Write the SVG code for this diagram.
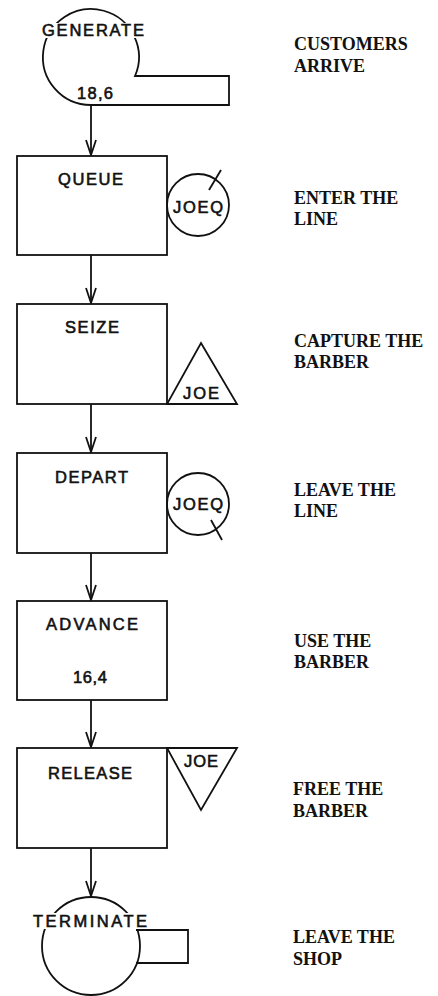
<svg xmlns="http://www.w3.org/2000/svg" width="438" height="996" viewBox="0 0 438 996">
<defs>
<style>
.s{fill:none;stroke:#111;stroke-width:1.8;stroke-linejoin:miter}
.t{font-family:"Liberation Sans",Arial,sans-serif;font-size:16.5px;fill:#111;stroke:#111;stroke-width:0.6}
.n{font-family:"Liberation Serif","Times New Roman",serif;font-size:18px;font-weight:bold;fill:#111}
.c{stroke:#111;stroke-width:1.8;fill:none}
</style>
<marker id="ar" viewBox="-16 -6 17 12" refX="0" refY="0" markerWidth="17" markerHeight="12" markerUnits="userSpaceOnUse" orient="auto">
<path d="M-15,-5 L0,0 L-15,5" fill="none" stroke="#111" stroke-width="1.8"/>
</marker>
</defs>
<rect width="438" height="996" fill="#fff"/>
<g id="connectors">
<line class="c" x1="91" y1="105" x2="91" y2="155" marker-end="url(#ar)"/>
<line class="c" x1="91" y1="255" x2="91" y2="303" marker-end="url(#ar)"/>
<line class="c" x1="91" y1="404" x2="91" y2="452" marker-end="url(#ar)"/>
<line class="c" x1="91" y1="553" x2="91" y2="600" marker-end="url(#ar)"/>
<line class="c" x1="91" y1="700" x2="91" y2="747" marker-end="url(#ar)"/>
<line class="c" x1="91" y1="848" x2="91" y2="896" marker-end="url(#ar)"/>
</g>
<g id="generate">
<path class="s" d="M135,76 A48,48 0 1 0 91,105 L229,105 L229,76 Z"/>
<rect x="40" y="23" width="106" height="15" fill="#fff"/>
<text class="t" x="42" y="36" textLength="102" lengthAdjust="spacing">GENERATE</text>
<text class="t" x="77" y="99" textLength="36" lengthAdjust="spacing">18,6</text>
</g>
<g id="queue">
<rect class="s" x="17" y="156" width="150" height="99"/>
<text class="t" x="58" y="185" textLength="65" lengthAdjust="spacing">QUEUE</text>
<circle class="s" cx="198" cy="205" r="31"/>
<text class="t" x="173" y="213" textLength="50" lengthAdjust="spacing">JOEQ</text>
<line class="c" x1="209" y1="190" x2="221" y2="170"/>
</g>
<g id="seize">
<rect class="s" x="17" y="304" width="150" height="100"/>
<text class="t" x="65" y="333" textLength="54" lengthAdjust="spacing">SEIZE</text>
<path class="s" d="M201,343 L237,404 L167,404 Z"/>
<text class="t" x="183" y="399" textLength="36" lengthAdjust="spacing">JOE</text>
</g>
<g id="depart">
<rect class="s" x="17" y="453" width="150" height="100"/>
<text class="t" x="55" y="483" textLength="73" lengthAdjust="spacing">DEPART</text>
<circle class="s" cx="198" cy="504" r="31"/>
<text class="t" x="173" y="510" textLength="50" lengthAdjust="spacing">JOEQ</text>
<line class="c" x1="211" y1="520" x2="222" y2="540"/>
</g>
<g id="advance">
<rect class="s" x="17" y="601" width="150" height="99"/>
<text class="t" x="46" y="630" textLength="92" lengthAdjust="spacing">ADVANCE</text>
<text class="t" x="73" y="683" textLength="34" lengthAdjust="spacing">16,4</text>
</g>
<g id="release">
<rect class="s" x="17" y="748" width="150" height="100"/>
<text class="t" x="48" y="779" textLength="84" lengthAdjust="spacing">RELEASE</text>
<path class="s" d="M167,748 L237,748 L201,810 Z"/>
<text class="t" x="184" y="767" textLength="34" lengthAdjust="spacing">JOE</text>
</g>
<g id="terminate">
<circle class="s" cx="91" cy="946" r="49"/>
<path class="s" d="M136,930 L188,930 L188,963 L136,963"/>
<rect x="31" y="913" width="118" height="16" fill="#fff"/>
<text class="t" x="33" y="927" textLength="114" lengthAdjust="spacing">TERMINATE</text>
</g>
<g id="notes">
<text class="n" x="294" y="50">CUSTOMERS</text>
<text class="n" x="294" y="72">ARRIVE</text>
<text class="n" x="294" y="204">ENTER THE</text>
<text class="n" x="294" y="225">LINE</text>
<text class="n" x="294" y="347">CAPTURE THE</text>
<text class="n" x="294" y="368">BARBER</text>
<text class="n" x="294" y="496">LEAVE THE</text>
<text class="n" x="294" y="517">LINE</text>
<text class="n" x="294" y="647">USE THE</text>
<text class="n" x="294" y="668">BARBER</text>
<text class="n" x="293" y="795">FREE THE</text>
<text class="n" x="293" y="817">BARBER</text>
<text class="n" x="293" y="943">LEAVE THE</text>
<text class="n" x="293" y="965">SHOP</text>
</g>
</svg>
